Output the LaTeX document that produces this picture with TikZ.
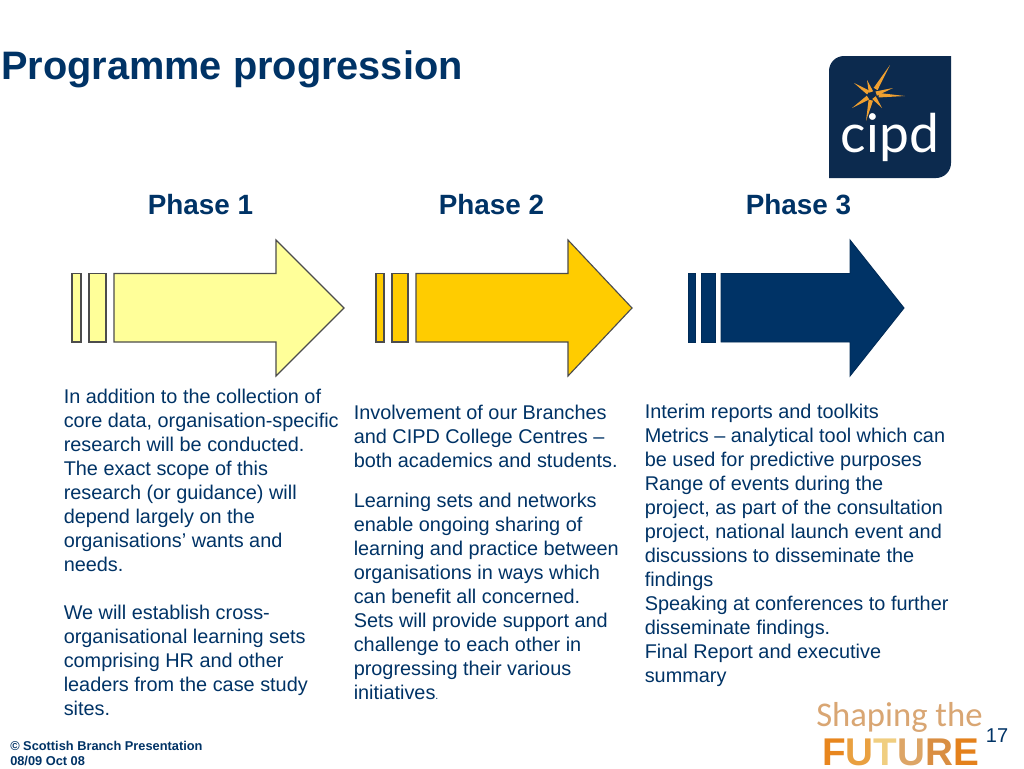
\documentclass[tikz,border=0pt]{standalone}
\usepackage{fontspec}
\setmainfont{Liberation Sans}
\newfontfamily\logofont{Lato}
\newfontfamily\shapefont{Carlito}
\usetikzlibrary{calc}
\definecolor{navy}{HTML}{003366}
\definecolor{logonavy}{HTML}{0C2A4E}
\definecolor{paleyellow}{HTML}{FFFF99}
\definecolor{gold}{HTML}{FFCC00}
\definecolor{starorange}{HTML}{F0A030}
\definecolor{tan}{HTML}{D9A673}
\definecolor{futureF}{HTML}{E8861E}
\definecolor{futureU}{HTML}{E9A040}
\definecolor{futureT}{HTML}{F0CE80}
\definecolor{futureV}{HTML}{DDA566}
\definecolor{futureR}{HTML}{D98E42}
\definecolor{futureE}{HTML}{E4811C}
\tikzset{
    phasehead/.style={font=\fontsize{20.9}{24}\selectfont\bfseries, text=navy, inner sep=0pt},
    bodytext/.style={font=\fontsize{14.9}{18}\selectfont, text=navy, align=left, anchor=north west, inner sep=0pt},
    footnote/.style={font=\fontsize{9.6}{11.25}\selectfont\bfseries, text=navy, align=left, anchor=north west, inner sep=0pt},
    arrowline/.style={draw=black!70, line width=0.85pt, line join=miter}
}
% bars and arrow: colour, bar edges, body left, head base, tip
\newcommand{\phasearrow}[8]{
    \draw[arrowline, fill=#1] (#2,273.5) rectangle (#3,342);
    \draw[arrowline, fill=#1] (#4,273.5) rectangle (#5,342);
    \draw[arrowline, fill=#1] (#6,273.5) -- (#7,273.5) -- (#7,240) -- (#8,308) -- (#7,376) -- (#7,342) -- (#6,342) -- cycle;
}
\begin{document}
\begin{tikzpicture}[x=0.75pt,y=-0.75pt]
    \useasboundingbox[fill=white] (0,0) rectangle (1024,768);

    % Title
    \node[anchor=base west, inner sep=0pt, text=navy, font=\fontsize{29.8}{32}\selectfont\bfseries] (title) at (1,79) {Programme progression};

    % Logo
    \fill[logonavy] (829,178) -- (829,71) arc[start angle=180, end angle=270, radius=15] -- (951,56) -- (951,163) arc[start angle=0, end angle=90, radius=15] -- cycle;
    \coordinate (starcentre) at (872,95);
    \foreach \tipx/\tipy in {890/65,905/96,866/121,852/108,854/83,867/80,893/88,882/108} {
        \coordinate (tip) at (\tipx,\tipy);
        \coordinate (base) at ($(starcentre)!0.2!(tip)$);
        \fill[starorange] (tip) -- ($(base)!1.7pt!90:(tip)$) -- ($(base)!1.7pt!-90:(tip)$) -- cycle;
    }
    \node[anchor=base, inner sep=0pt, text=white, font=\fontsize{40}{40}\selectfont\logofont] (logotext) at (890,152) {cipd};

    % Phase headings
    \node[phasehead] (phaseone) at (200.5,205) {Phase 1};
    \node[phasehead] (phasetwo) at (491.5,205) {Phase 2};
    \node[phasehead] (phasethree) at (798.5,205) {Phase 3};

    % Arrows
    \phasearrow{paleyellow}{72}{81}{89}{106}{114}{276}{344}
    \phasearrow{gold}{376}{384}{392}{408}{416}{568}{632}
    \begin{scope}[arrowline/.style={draw=navy!85!black, line width=0.7pt, line join=miter}]
        \phasearrow{navy}{688}{695}{701}{715}{721}{850}{904}
    \end{scope}

    % Column texts
    \node[bodytext] (textone) at (63.5,388.7) {In addition to the collection of\\
        core data, organisation-specific\\
        research will be conducted.\\
        The exact scope of this\\
        research (or guidance) will\\
        depend largely on the\\
        organisations’ wants and\\
        needs.\\[18pt]
        We will establish cross-\\
        organisational learning sets\\
        comprising HR and other\\
        leaders from the case study\\
        sites.};
    \node[bodytext] (texttwo) at (353.5,404.7) {Involvement of our Branches\\
        and CIPD College Centres –\\
        both academics and students.\\[12pt]
        Learning sets and networks\\
        enable ongoing sharing of\\
        learning and practice between\\
        organisations in ways which\\
        can benefit all concerned.\\
        Sets will provide support and\\
        challenge to each other in\\
        progressing their various\\
        initiatives{\fontsize{8}{8}\selectfont .}};
    \node[bodytext] (textthree) at (644.5,404) {Interim reports and toolkits\\
        Metrics – analytical tool which can\\
        be used for predictive purposes\\
        Range of events during the\\
        project, as part of the consultation\\
        project, national launch event and\\
        discussions to disseminate the\\
        findings\\
        Speaking at conferences to further\\
        disseminate findings.\\
        Final Report and executive\\
        summary};

    % Footer
    \node[footnote] (footer) at (10,741) {© Scottish Branch Presentation\\08/09 Oct 08};
    \node[anchor=base, inner sep=0pt, text=navy, font=\fontsize{15}{18}\selectfont] (pagenum) at (997,742) {17};
    \node[anchor=base west, inner sep=0pt, text=tan, font=\fontsize{26}{28}\selectfont\shapefont] (shaping) at (816,726) {Shaping the};
    \node[anchor=base west, inner sep=0pt, font=\fontsize{29}{29}\selectfont\bfseries] (future) at (822,765) {\textcolor{futureF}{F}\textcolor{futureU}{U}\textcolor{futureT}{T}\textcolor{futureV}{U}\textcolor{futureR}{R}\textcolor{futureE}{E}};
\end{tikzpicture}
\end{document}
